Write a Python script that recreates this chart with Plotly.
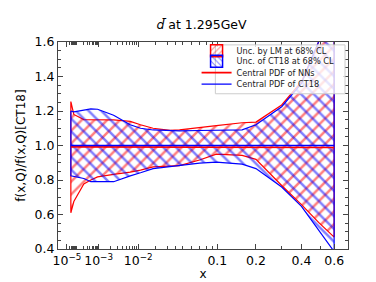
import numpy as np
import plotly.graph_objects as go

# ---- data ----
x_vals = [2.5e-5, 5e-5, 2.1e-4, 4.4e-4, 9e-4, 2.4e-3, 6.3e-3, 0.011, 0.0185, 0.033,
          0.045, 0.07, 0.098, 0.156, 0.2, 0.3, 0.4, 0.49, 0.6]
lm_upper = [1.255, 1.18, 1.15, 1.15, 1.15, 1.148, 1.14, 1.12, 1.10, 1.088,
            1.09, 1.105, 1.115, 1.132, 1.136, 1.235, 1.37, 1.6, 1.85]
lm_lower = [0.61, 0.675, 0.777, 0.80, 0.818, 0.833, 0.846, 0.857, 0.876, 0.881,
            0.883, 0.916, 0.95, 0.943, 0.92, 0.768, 0.657, 0.554, 0.469]
ct_upper = [1.20, 1.195, 1.205, 1.212, 1.21, 1.175, 1.12, 1.10, 1.09, 1.085,
            1.085, 1.087, 1.088, 1.091, 1.12, 1.225, 1.36, 1.6, 1.82]
ct_lower = [0.824, 0.82, 0.809, 0.79, 0.79, 0.79, 0.824, 0.842, 0.866, 0.876,
            0.883, 0.898, 0.904, 0.892, 0.866, 0.759, 0.647, 0.508, 0.385]
nn_central = [0.992, 0.992, 0.992, 0.992, 0.991, 0.991, 0.991, 0.99, 0.99, 0.99,
              0.99, 0.99, 0.99, 0.989, 0.989, 0.989, 0.988, 0.988, 0.988]
ct_central = [1.0] * len(x_vals)

major_ticks = [1e-5, 1e-3, 1e-2, 0.1, 0.2, 0.4, 0.6]
major_labels = ["10<sup>−5</sup>", "10<sup>−3</sup>", "10<sup>−2</sup>", "0.1", "0.2", "0.4", "0.6"]
minor_x = ([k * 1e-5 for k in range(2, 10)] + [k * 1e-4 for k in range(1, 10)]
           + [k * 1e-3 for k in range(2, 10)] + [k * 1e-2 for k in range(2, 10)] + [0.3, 0.5])
y_ticks = [0.4, 0.6, 0.8, 1.0, 1.2, 1.4, 1.6]
y_labels = ["0.4", "0.6", "0.8", "1.0", "1.2", "1.4", "1.6"]

band_names = ["Unc. by LM at 68% CL", "Unc. of CT18 at 68% CL"]
line_names = ["Central PDF of NNs", "Central PDF of CT18"]

# ---- custom x scale (piecewise in log10 x, as in the reference axis) ----
scale_logx = [-5, -4, -3, -2, np.log10(0.02), np.log10(0.05), -1, np.log10(0.2),
              np.log10(0.3), np.log10(0.4), np.log10(0.5), np.log10(0.6)]
scale_pos = [56, 66, 88, 128, 145, 173, 208, 247, 273, 293, 312, 326]


def T(x):
    return np.interp(np.log10(np.asarray(x, dtype=float)), scale_logx, scale_pos)


xp = T(x_vals)

W, H = 376, 282
L, R, TOP, B = 47, 36, 34, 32
PW, PH = W - L - R, H - TOP - B


def px_x(p):
    return (p - L) / PW


def px_y(p):
    return (H - B - p) / PH


fig = go.Figure()
PSIZE, PSOL = 9, 0.28


def band(upper, lower, color, shape):
    xs = np.concatenate([xp, xp[::-1], xp[:1]])
    ys = np.concatenate([np.array(upper), np.array(lower)[::-1], np.array(upper)[:1]])
    fig.add_trace(go.Scatter(
        x=xs, y=ys, mode="lines", fill="toself", showlegend=False, hoverinfo="skip",
        line=dict(color=color, width=1.2),
        fillcolor="rgba(0,0,0,0)",
        fillpattern=dict(shape=shape, fgcolor=color, bgcolor="rgba(0,0,0,0)",
                         size=PSIZE, solidity=PSOL),
    ))


band(lm_upper, lm_lower, "red", "/")
band(ct_upper, ct_lower, "blue", "\\")

fig.add_trace(go.Scatter(x=xp, y=nn_central, mode="lines", name=line_names[0],
                         line=dict(color="red", width=1.6), legend="legend3"))
fig.add_trace(go.Scatter(x=xp, y=ct_central, mode="lines", name=line_names[1],
                         line=dict(color="blue", width=1.4), legend="legend4"))

# legend keys for the hatched bands
for name, color, shape, lg in [(band_names[0], "red", "/", "legend"),
                               (band_names[1], "blue", "\\", "legend2")]:
    fig.add_trace(go.Bar(
        x=[None], y=[None], name=name, legend=lg,
        marker=dict(color="rgba(0,0,0,0)", line=dict(color=color, width=1.5),
                    pattern=dict(shape=shape, fgcolor=color, bgcolor="rgba(0,0,0,0)",
                                 size=5, solidity=0.25)),
    ))

font = "DejaVu Sans, Liberation Sans, sans-serif"
axcol = "#444444"

leg_common = dict(x=px_x(187), xanchor="left", yanchor="middle",
                  bgcolor="rgba(0,0,0,0)", borderwidth=0,
                  font=dict(size=8.2, color="#222222"), itemwidth=30)
centers = [43, 54, 66, 78]

fig.update_layout(
    width=W, height=H,
    margin=dict(l=L, r=R, t=TOP, b=B),
    plot_bgcolor="white", paper_bgcolor="white",
    font=dict(family=font, size=12, color="black"),
    title=dict(text="<i>d̄</i> at 1.295GeV", x=(L + W - R) / 2 / W, xanchor="center",
               y=1 - 17 / H, yanchor="middle", font=dict(size=12.5)),
    showlegend=True,
    legend=dict(y=px_y(centers[0]), **leg_common),
    legend2=dict(y=px_y(centers[1]), **leg_common),
    legend3=dict(y=px_y(centers[2]), **leg_common),
    legend4=dict(y=px_y(centers[3]), **leg_common),
    shapes=[dict(type="rect", xref="paper", yref="paper",
                 x0=px_x(206), x1=px_x(337), y0=px_y(88), y1=px_y(37),
                 fillcolor="rgba(255,255,255,0.8)", line=dict(color="#cccccc", width=1),
                 layer="above")],
    bargap=0,
)

fig.update_xaxes(
    range=[L, W - R], tickmode="array", tickvals=T(major_ticks), ticktext=major_labels,
    ticks="inside", ticklen=5, tickcolor=axcol, showline=True, linecolor=axcol, linewidth=1,
    mirror="allticks", showgrid=False, zeroline=False,
    tickfont=dict(size=12.5),
    title=dict(text="x", font=dict(size=12), standoff=2),
    minor=dict(tickmode="array", tickvals=T(minor_x), ticks="inside", ticklen=3,
               tickcolor=axcol, showgrid=False),
)
fig.update_yaxes(
    range=[0.4, 1.6], tickmode="array", tickvals=y_ticks, ticktext=y_labels,
    ticks="inside", ticklen=5, tickcolor=axcol, showline=True, linecolor=axcol, linewidth=1,
    mirror="allticks", showgrid=False, zeroline=False,
    tickfont=dict(size=12.5),
    title=dict(text="f(x,Q)/f(x,Q)[CT18]", font=dict(size=12), standoff=6),
    minor=dict(dtick=0.05, tick0=0.4, ticks="inside", ticklen=3, tickcolor=axcol,
               showgrid=False),
)

fig.write_html("out.html")
